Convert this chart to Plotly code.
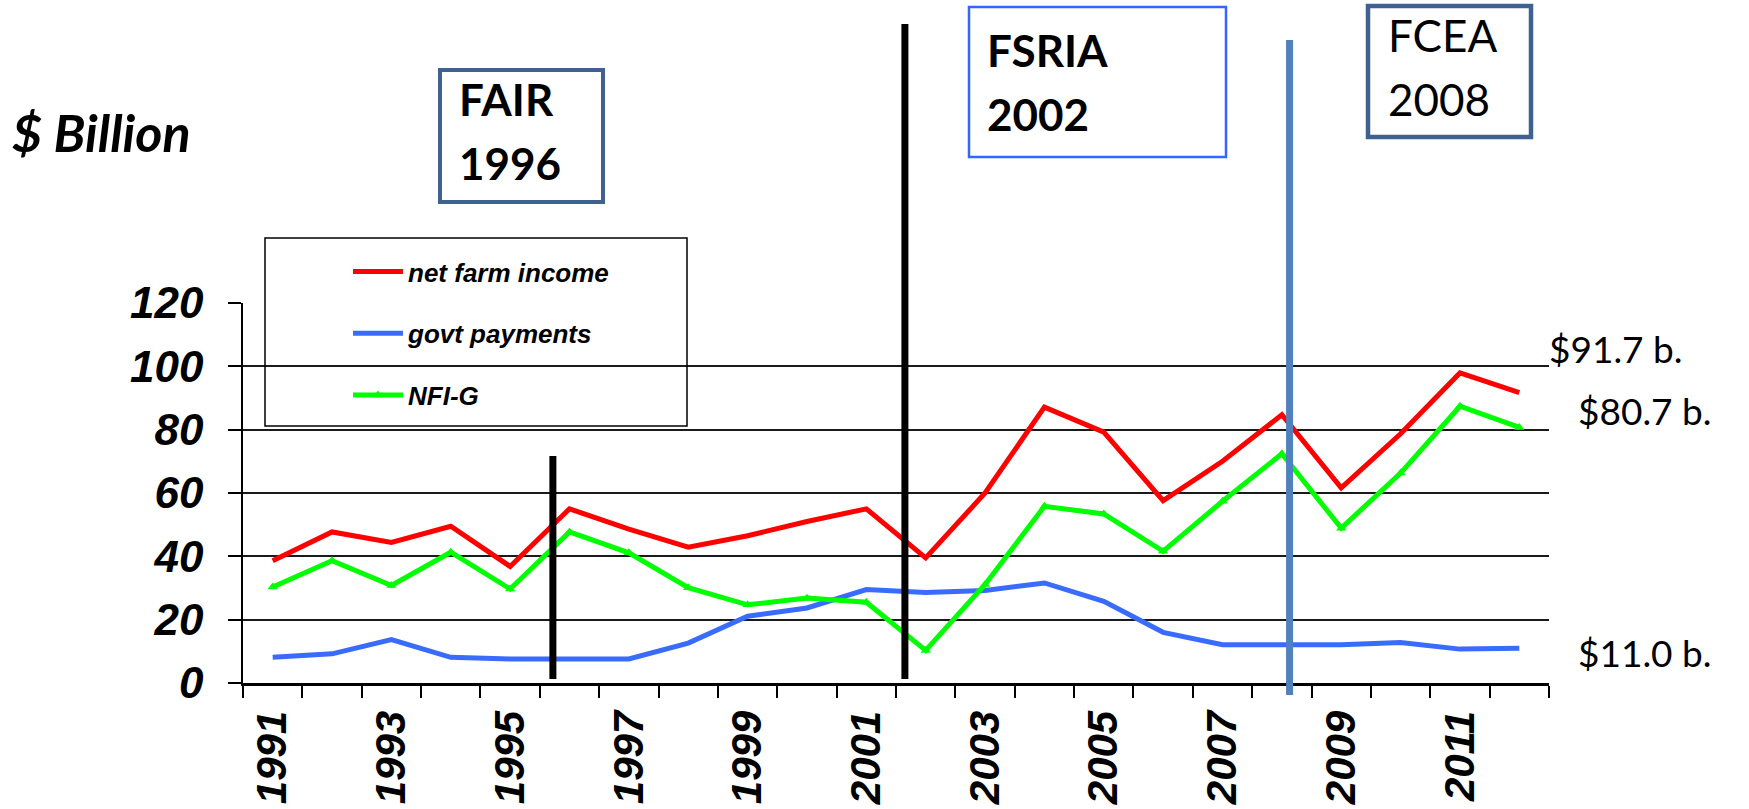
import plotly.graph_objects as go

# ---------------- data ----------------
years = list(range(1991, 2013))
net_farm_income = [38.6, 47.7, 44.4, 49.5, 36.8, 55.0, 48.6, 42.9, 46.5, 51.0, 55.0,
                   39.5, 60.0, 87.1, 79.2, 57.6, 70.0, 84.7, 61.6, 78.7, 97.9, 91.7]
govt_payments = [8.1, 9.2, 13.7, 8.1, 7.6, 7.6, 7.6, 12.6, 21.1, 23.7, 29.5,
                 28.6, 29.2, 31.6, 25.8, 16.0, 12.1, 12.1, 12.1, 12.8, 10.7, 11.0]
nfi_minus_g = [30.3, 38.6, 30.8, 41.3, 29.7, 47.7, 41.1, 30.1, 24.7, 26.8, 25.5,
               10.3, 31.1, 55.8, 53.4, 41.6, 57.4, 72.4, 48.9, 66.3, 87.4, 80.7]

series_names = ["net farm income", "govt payments", "NFI-G"]
x_tick_years = [1991, 1993, 1995, 1997, 1999, 2001, 2003, 2005, 2007, 2009, 2011]
x_tick_labels = [str(y) for y in x_tick_years]
y_tick_values = [0, 20, 40, 60, 80, 100, 120]

end_labels = ["$91.7 b.", "$80.7 b.", "$11.0 b."]
policy_names = ["FAIR", "FSRIA", "FCEA"]
policy_years = ["1996", "2002", "2008"]
policy_line_x = [1995.72, 2001.65, 2008.13]

# ---------------- geometry (pixels) ----------------
W, H = 1749, 809
L, R, T, B = 243, 200, 303, 126
PW, PH = W - L - R, H - T - B


def px(X):
    return (X - L) / PW


def py(Y):
    return (H - B - Y) / PH


ARIAL = "Liberation Sans, Arial, sans-serif"
CALIBRI = "Lato, Noto Sans, sans-serif"

fig = go.Figure()
fig.add_trace(go.Scatter(x=years, y=net_farm_income, name=series_names[0], mode="lines",
                         line=dict(color="#FF0000", width=5), legendgroup="a"))
fig.add_trace(go.Scatter(x=years, y=govt_payments, name=series_names[1], mode="lines",
                         line=dict(color="#3A6BFF", width=5), legendgroup="b"))
fig.add_trace(go.Scatter(x=years, y=nfi_minus_g, name=series_names[2], mode="lines+markers",
                         line=dict(color="#00FF00", width=5),
                         marker=dict(symbol="triangle-up", size=9, color="#00FF00"),
                         legendgroup="c"))

shapes = []
# policy vertical lines
line_specs = [
    (policy_line_x[0], 679, 456, "#000000", 7),
    (policy_line_x[1], 679, 24, "#000000", 7),
    (policy_line_x[2], 695, 40, "#4F81BD", 7),
]
for xv, yb, yt, col, w in line_specs:
    shapes.append(dict(type="line", xref="x", yref="paper", x0=xv, x1=xv,
                       y0=py(yb), y1=py(yt), line=dict(color=col, width=w), layer="above"))

# policy boxes
box_specs = [
    (440, 70, 603, 202, "#3F6190", 4),
    (969, 7, 1226, 157, "#3366FF", 2.5),
    (1368, 6, 1531, 137, "#3F6190", 4.5),
]
for x0, y0, x1, y1, col, w in box_specs:
    shapes.append(dict(type="rect", xref="paper", yref="paper", x0=px(x0), x1=px(x1),
                       y0=py(y1), y1=py(y0), line=dict(color=col, width=w),
                       fillcolor="rgba(0,0,0,0)", layer="above"))

# legend frame
shapes.append(dict(type="rect", xref="paper", yref="paper", x0=px(265), x1=px(687),
                   y0=py(426), y1=py(238), line=dict(color="#000000", width=1.5),
                   fillcolor="rgba(0,0,0,0)", layer="above"))

annotations = []


def add_text(text, X, Y, family, size, weight="normal", style="normal"):
    annotations.append(dict(text=text, xref="paper", yref="paper", x=px(X), y=py(Y),
                            xanchor="left", yanchor="middle", showarrow=False,
                            font=dict(family=family, size=size, color="#000000",
                                      weight=weight, style=style)))


add_text("$ Billion", 10, 132, CALIBRI, 52, "bold", "italic")
title_pos = [(457, 99, 163, "bold"), (985, 50, 114, "bold"), (1386, 35, 99, "normal")]
for name, yr, (X, y1, y2, wt) in zip(policy_names, policy_years, title_pos):
    add_text(name, X, y1, CALIBRI, 44, wt)
    add_text(yr, X, y2, CALIBRI, 44, wt)

end_pos = [(1547, 348), (1576, 410), (1576, 652)]
for lab, (X, Y) in zip(end_labels, end_pos):
    add_text(lab, X, Y, CALIBRI, 37)

fig.update_layout(
    template="none",
    width=W, height=H,
    margin=dict(l=L, r=R, t=T, b=B, pad=0),
    paper_bgcolor="white", plot_bgcolor="white",
    showlegend=True,
    legend=dict(x=px(348), y=py(248), xanchor="left", yanchor="top",
                bgcolor="rgba(0,0,0,0)", borderwidth=0,
                font=dict(family=ARIAL, size=26, color="#000000", weight="bold", style="italic"),
                itemwidth=50, traceorder="grouped", tracegroupgap=25),
    shapes=shapes,
    annotations=annotations,
    hovermode=False,
)

fig.update_xaxes(
    type="linear", range=[1990.5, 2012.5], automargin=False,
    tickmode="array", tickvals=x_tick_years, ticktext=x_tick_labels,
    tickangle=-90, ticks="", ticklabelstandoff=8,
    tickfont=dict(family=ARIAL, size=42, color="#000000", weight="bold", style="italic"),
    showgrid=False, zeroline=False,
    showline=True, linecolor="#000000", linewidth=3,
    minor=dict(tick0=0.5, dtick=1, ticks="outside", ticklen=12, tickwidth=1.5,
               tickcolor="#000000", showgrid=False),
)
fig.update_yaxes(
    range=[0, 120], automargin=False,
    tickmode="array", tickvals=y_tick_values,
    ticks="outside", ticklen=13, tickwidth=1.5, tickcolor="#000000",
    ticklabelstandoff=16,
    tickfont=dict(family=ARIAL, size=44, color="#000000", weight="bold", style="italic"),
    showgrid=True, gridcolor="#1a1a1a", gridwidth=1.5, zeroline=False,
    showline=True, linecolor="#000000", linewidth=1.5,
)

fig.write_html("out.html", config={"displayModeBar": False},
               post_script="document.body.style.margin='0';")
